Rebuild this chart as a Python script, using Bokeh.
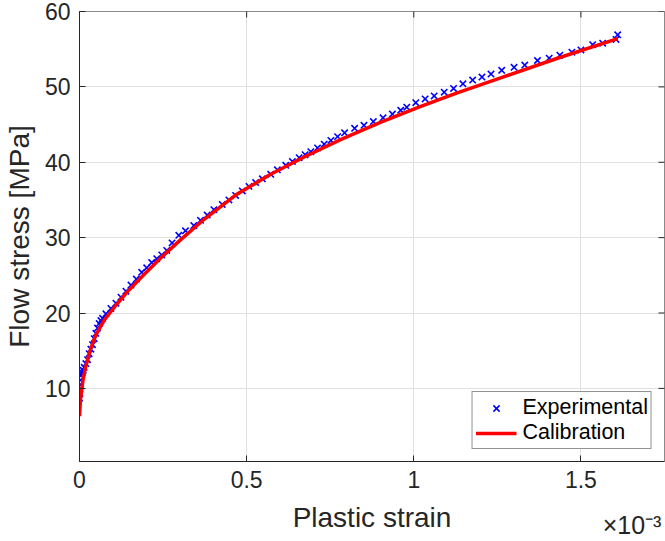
import math

from bokeh.plotting import figure
from bokeh.models import Range1d, FixedTicker, NumeralTickFormatter, LinearAxis
from bokeh.embed import file_html
from bokeh.resources import INLINE

# Plastic strain is given in units of 1e-3, flow stress in MPa
strain_exp = [
    0.000, 0.001, 0.001, 0.002, 0.003, 0.005, 0.008, 0.011, 0.014, 0.019,
    0.024, 0.029, 0.034, 0.039, 0.044, 0.049, 0.054, 0.059, 0.064, 0.069,
    0.079, 0.094, 0.109, 0.124, 0.139, 0.154, 0.170, 0.186, 0.201, 0.216,
    0.231, 0.246, 0.261, 0.277, 0.297, 0.317, 0.342, 0.362, 0.382, 0.402,
    0.427, 0.447, 0.467, 0.487, 0.507, 0.527, 0.547, 0.572, 0.592, 0.617,
    0.637, 0.657, 0.675, 0.692, 0.712, 0.732, 0.752, 0.772, 0.793, 0.823,
    0.851, 0.879, 0.908, 0.936, 0.961, 0.979, 1.006, 1.034, 1.061, 1.091,
    1.119, 1.147, 1.176, 1.204, 1.231, 1.263, 1.300, 1.332, 1.370, 1.405,
    1.437, 1.473, 1.500, 1.535, 1.565, 1.605, 1.610,
]
stress_exp = [
    8.7, 9.3, 9.9, 10.5, 11.1, 11.7, 12.1, 12.4, 12.8, 13.3,
    13.8, 14.6, 15.2, 15.8, 16.6, 17.3, 18.0, 18.6, 19.0, 19.3,
    19.9, 20.6, 21.3, 22.1, 22.9, 23.7, 24.5, 25.4, 26.0, 26.7,
    27.2, 27.7, 28.3, 29.3, 30.3, 30.9, 31.6, 32.3, 33.0, 33.7,
    34.4, 35.0, 35.6, 36.2, 36.8, 37.3, 37.8, 38.4, 39.0, 39.6,
    40.1, 40.6, 41.0, 41.4, 41.9, 42.4, 42.9, 43.4, 43.9, 44.5,
    44.9, 45.4, 45.9, 46.4, 46.9, 47.3, 47.9, 48.4, 48.8, 49.3,
    49.8, 50.4, 50.9, 51.3, 51.7, 52.2, 52.6, 52.9, 53.5, 53.8,
    54.2, 54.6, 54.9, 55.6, 55.8, 56.3, 56.9,
]

strain_cal = [
    0.000, 0.003, 0.010, 0.018, 0.033, 0.048, 0.073, 0.103, 0.143, 0.193,
    0.243, 0.297, 0.372, 0.472, 0.572, 0.672, 0.781, 0.900, 1.021, 1.130,
    1.260, 1.430, 1.610,
]
stress_cal = [
    6.3, 8.6, 11.0, 12.8, 15.2, 17.0, 19.0, 20.7, 22.8, 25.1,
    27.3, 29.5, 32.4, 35.8, 38.4, 40.7, 43.0, 45.3, 47.4, 49.2,
    51.2, 53.8, 56.4,
]

x_ticks = [0, 0.5, 1, 1.5]
y_ticks = [10, 20, 30, 40, 50, 60]
x_exponent = "\u00d710\u207b\u00b3"

FONT = "Liberation Sans"
INK = "#262626"
GRID = "#e0e0e0"

x_range = Range1d(0, 1.75)
y_range = Range1d(0.3, 60)

p = figure(
    width=665, height=541,
    output_backend="svg", toolbar_location=None,
    x_range=x_range, y_range=y_range,
    min_border_left=79, min_border_right=1,
    min_border_top=11, min_border_bottom=80,
    background_fill_color="white", border_fill_color="white",
)

p.scatter(strain_exp, stress_exp, marker="x", size=9,
          line_color="#0000ff", line_width=1.6, legend_label="Experimental")
p.line(strain_cal, stress_cal, line_color="#ff0000", line_width=3.5,
       legend_label="Calibration")

# Mirrored inward ticks on the top and right edges of the box:
# dashes centred on the edge, the outer half is clipped by the frame
p.scatter(x_ticks, [y_range.end] * len(x_ticks), marker="dash", size=12,
          angle=math.pi / 2, line_color=INK, line_width=1)
p.scatter([x_range.end] * len(y_ticks), y_ticks, marker="dash", size=12,
          line_color=INK, line_width=1)

# Axes, ticks pointing inward
for ax in (p.xaxis[0], p.yaxis[0]):
    ax.axis_line_color = INK
    ax.axis_line_width = 1
    ax.major_tick_line_color = INK
    ax.major_tick_in = 6
    ax.major_tick_out = 0
    ax.minor_tick_line_color = None
    ax.major_label_text_font = FONT
    ax.major_label_text_font_size = "23px"
    ax.major_label_text_color = INK
    ax.axis_label_text_font = FONT
    ax.axis_label_text_font_size = "28px"
    ax.axis_label_text_font_style = "normal"
    ax.axis_label_text_color = INK

p.xaxis.ticker = FixedTicker(ticks=x_ticks)
p.xaxis.formatter = NumeralTickFormatter(format="0.[0]")
p.xaxis.axis_label = "Plastic strain"
p.xaxis.major_label_standoff = 9
p.xaxis.axis_label_standoff = 11

p.yaxis.ticker = FixedTicker(ticks=y_ticks)
p.yaxis.axis_label = "Flow stress [MPa]"
p.yaxis.major_label_standoff = 9
p.yaxis.axis_label_standoff = 7

# Exponent of the strain axis, set beside the axis title
exp_axis = LinearAxis(
    ticker=FixedTicker(ticks=[1.653]),
    major_label_overrides={1.653: x_exponent},
    axis_line_color=None, major_tick_line_color=None,
    minor_tick_line_color=None,
    major_label_standoff=-31,
    major_label_text_font=FONT, major_label_text_font_size="25px",
    major_label_text_color=INK,
)
p.add_layout(exp_axis, "below")

p.grid.grid_line_color = GRID
p.grid.grid_line_width = 1
p.xgrid.ticker = FixedTicker(ticks=x_ticks)
p.ygrid.ticker = FixedTicker(ticks=y_ticks)

p.outline_line_color = "#8a8a8a"
p.outline_line_width = 1

lg = p.legend[0]
lg.location = "bottom_right"
lg.margin = 12
lg.padding = 3
lg.spacing = 0
lg.glyph_width = 41
lg.glyph_height = 22
lg.label_height = 22
lg.label_standoff = 6
lg.label_text_font = FONT
lg.label_text_font_size = "21.5px"
lg.label_text_color = "#000000"
lg.border_line_color = INK
lg.border_line_width = 1
lg.background_fill_color = "white"
lg.background_fill_alpha = 1

open("out.html", "w").write(file_html(p, INLINE))
